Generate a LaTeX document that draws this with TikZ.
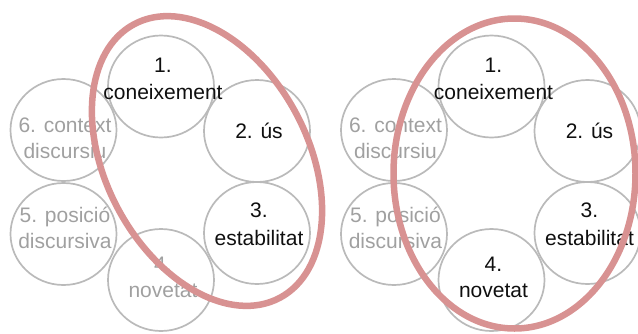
\documentclass[tikz,border=0pt]{standalone}
\usepackage{fontspec}
\setmainfont{Liberation Sans}
\usetikzlibrary{shapes.geometric}
\definecolor{ringgray}{RGB}{186,186,186}
\definecolor{mutedtext}{RGB}{160,160,160}
\definecolor{activetext}{RGB}{15,15,15}
\definecolor{hilite}{RGB}{216,146,146}
\begin{document}
\begin{tikzpicture}[x=1pt,y=-1pt,
  ring/.style={ellipse, draw=ringgray, line width=1.7pt,
    minimum width=106pt, minimum height=102pt, inner sep=0pt},
  lbl/.style={anchor=base, inner sep=0pt, font=\fontsize{21}{27}\selectfont},
  on/.style={lbl, text=activetext},
  off/.style={lbl, text=mutedtext},
  hl/.style={draw=hilite, line width=6.5pt}]
\useasboundingbox (0,0) rectangle (638,333);

% ---- first wheel: criteria 1-3 selected ----
\node[ring] (a1) at (161,86.5) {};
\node[ring] (a2) at (257,131) {};
\node[ring] (a3) at (257,233) {};
\node[ring] (a4) at (161,280) {};
\node[ring] (a5) at (63.5,234) {};
\node[ring] (a6) at (63.5,130) {};

\node[on]  (a1t) at (163,72)  {1.};
\node[on]  (a1u) at (163,99)  {coneixement};
\node[on]  (a2t) at (259,138) {2. ús};
\node[on]  (a3t) at (259,217) {3.};
\node[on]  (a3u) at (259,245) {estabilitat};
\node[off] (a4t) at (163,271) {4.};
\node[off] (a4u) at (163,297) {novetat};
\node[off] (a5t) at (65,222)  {5. posició};
\node[off] (a5u) at (65,248)  {discursiva};
\node[off] (a6t) at (65,132)  {6. context};
\node[off] (a6u) at (65,158)  {discursiu};

% ---- second wheel: criteria 1-4 selected ----
\begin{scope}[xshift=330.5pt]
\node[ring] (b1) at (161,86.5) {};
\node[ring] (b2) at (257,131) {};
\node[ring] (b3) at (257,233) {};
\node[ring] (b4) at (161,280) {};
\node[ring] (b5) at (63.5,234) {};
\node[ring] (b6) at (63.5,130) {};

\node[on]  (b1t) at (163,72)  {1.};
\node[on]  (b1u) at (163,99)  {coneixement};
\node[on]  (b2t) at (259,138) {2. ús};
\node[on]  (b3t) at (259,217) {3.};
\node[on]  (b3u) at (259,245) {estabilitat};
\node[on]  (b4t) at (163,271) {4.};
\node[on]  (b4u) at (163,297) {novetat};
\node[off] (b5t) at (65,222)  {5. posició};
\node[off] (b5u) at (65,248)  {discursiva};
\node[off] (b6t) at (65,132)  {6. context};
\node[off] (b6u) at (65,158)  {discursiu};
\end{scope}

% ---- highlight loops around the selected criteria ----
\draw[hl, rotate around={-62:(207,161)}] (207,161) ellipse [x radius=155, y radius=101];
\draw[hl] (514.5,173.5) ellipse [x radius=121, y radius=155];
\end{tikzpicture}
\end{document}
